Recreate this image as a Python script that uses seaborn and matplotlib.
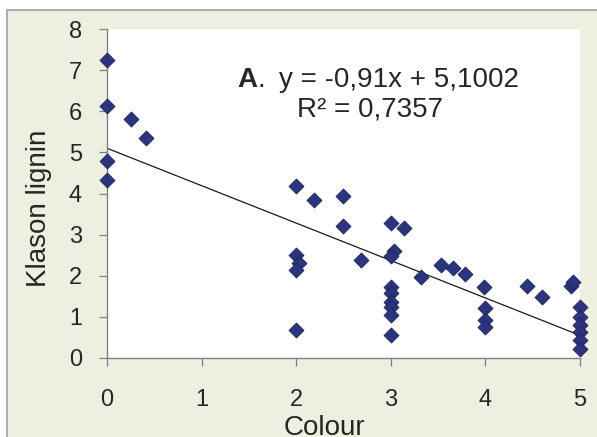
import matplotlib
matplotlib.use("Agg")
import matplotlib.pyplot as plt
import seaborn as sns
import pandas as pd
from matplotlib.patches import Rectangle

# --- data ---
colour = [0, 0, 0.25, 0.41, 0, 0,
          2.0, 2.19, 2.49, 2.49, 2.0, 2.03, 2.0, 2.68, 2.0,
          3.0, 3.14, 3.03, 3.0, 3.32, 3.0, 3.0, 3.0, 3.0, 3.0, 3.0,
          3.53, 3.66, 3.78, 3.98, 4.0, 4.0, 4.0,
          4.44, 4.6, 4.9, 4.93, 5, 5, 5, 5, 5, 5]
lignin = [7.25, 6.13, 5.82, 5.35, 4.8, 4.33,
          4.19, 3.83, 3.93, 3.2, 2.51, 2.3, 2.14, 2.38, 0.68,
          3.29, 3.16, 2.61, 2.47, 1.98, 1.73, 1.57, 1.37, 1.25, 1.05, 0.56,
          2.26, 2.2, 2.04, 1.73, 1.21, 0.92, 0.76,
          1.75, 1.49, 1.75, 1.86, 1.25, 1.0, 0.8, 0.64, 0.44, 0.23]

slope = -0.91
intercept = 5.1002
fit_x = [0, 5]
eq_text = "y = -0,91x + 5,1002"
r2_text = "R² = 0,7357"

x_ticks = [0, 1, 2, 3, 4, 5]
y_ticks = [0, 1, 2, 3, 4, 5, 6, 7, 8]

BG = "#edf0e1"
MARKER = "#2d347e"

sns.set_style("ticks")
plt.rcParams['font.family'] = ['Liberation Sans', 'DejaVu Sans']

W, H = 597, 437
fig = plt.figure(figsize=(W / 100, H / 100), dpi=100, facecolor="white")
fig.patches.append(Rectangle((7 / W, -0.1), 1.2, 1 - 10 / H + 0.1,
                             transform=fig.transFigure, facecolor=BG,
                             edgecolor="#a0a0a0", lw=1.2, zorder=-1))

ax = fig.add_axes([107 / W, 1 - 358 / H, 473 / W, 329 / H])
ax.set_facecolor("white")

df = pd.DataFrame({"Colour": colour, "Klason lignin": lignin})
sns.scatterplot(data=df, x="Colour", y="Klason lignin", ax=ax, marker="D",
                s=58, color=MARKER, edgecolor="#1c2260", linewidth=0.6,
                clip_on=False, zorder=3)

fit_y = [slope * v + intercept for v in fit_x]
ax.plot(fit_x, fit_y, color="#1a1a1a", lw=0.9, zorder=2)

ax.set_xlim(0, 5)
ax.set_ylim(0, 8)
ax.set_xticks(x_ticks)
ax.set_yticks(y_ticks)
ax.tick_params(axis="both", labelsize=17, length=6, width=0.9,
               color="#808080", direction="out")
ax.tick_params(axis="x", pad=16)
ax.tick_params(axis="y", pad=12)

for side in ["top", "right"]:
    ax.spines[side].set_visible(False)
for side in ["left", "bottom"]:
    ax.spines[side].set_color("#808080")
    ax.spines[side].set_linewidth(1.0)

ax.set_xlabel("Colour", fontsize=20, va="top")
ax.xaxis.set_label_coords(0.46, -0.173)
ax.set_ylabel("Klason lignin", fontsize=20, va="center")
ax.yaxis.set_label_coords(-0.144, 0.454)

# equation annotation (placed in axes fraction)
ax.text((237 - 107) / 473, (358 - 80) / 329, "A", fontsize=20,
        fontweight="bold", ha="left", va="center", transform=ax.transAxes)
ax.text((258 - 107) / 473, (358 - 80) / 329, ".", fontsize=20,
        ha="left", va="center", transform=ax.transAxes)
ax.text((279 - 107) / 473, (358 - 80) / 329, eq_text, fontsize=20,
        ha="left", va="center", transform=ax.transAxes)
ax.text((370 - 107) / 473, (358 - 110) / 329, r2_text, fontsize=20,
        ha="center", va="center", transform=ax.transAxes)

fig.savefig("out.png", dpi=100, facecolor=fig.get_facecolor())
